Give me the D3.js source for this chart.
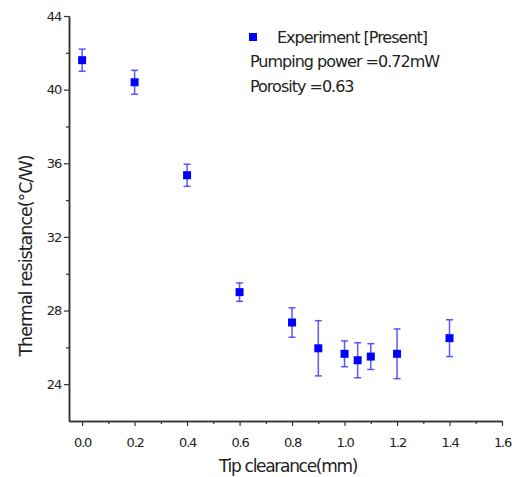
<!DOCTYPE html>
<html>
<head>
<meta charset="utf-8">
<script src="https://cdn.jsdelivr.net/npm/d3@7"></script>
<style>
  body { margin: 0; background: #fff; }
  text { font-family: "DejaVu Sans", sans-serif; fill: #222; }
</style>
</head>
<body>
<script>
var width = 512,
    height = 477;

// data
var clearance = [0.0, 0.2, 0.4, 0.6, 0.8, 0.9, 1.0, 1.05, 1.1, 1.2, 1.4];
var resistance = [41.6, 40.4, 35.35, 29.0, 27.35, 25.95, 25.65, 25.3, 25.5, 25.65, 26.5];
var errorBar = [0.6, 0.65, 0.6, 0.5, 0.8, 1.5, 0.7, 0.95, 0.7, 1.35, 1.0];
var xTicks = [0.0, 0.2, 0.4, 0.6, 0.8, 1.0, 1.2, 1.4, 1.6];
var yTicks = [24, 28, 32, 36, 40, 44];
var legendLines = ["Pumping power =0.72mW", "Porosity =0.63"];

var svg = d3.select("body").append("svg")
            .attr("width", width)
            .attr("height", height)

var x = d3.scaleLinear().domain([-0.05, 1.6]).range([69, 502]);
var y = d3.scaleLinear().domain([22, 44]).range([421, 16]);

var xAxis = svg.append("g")
               .attr("transform", "translate(0,421)")
               .call(d3.axisBottom(x).tickValues(xTicks).tickFormat(d3.format(".1f")).tickSize(5).tickSizeOuter(0));
svg.append("g")
   .attr("transform", "translate(0,421)")
   .call(d3.axisBottom(x).tickValues(d3.range(0.1, 1.6, 0.2)).tickFormat("").tickSize(3).tickSizeOuter(0));

var yAxis = svg.append("g")
               .attr("transform", "translate(69,0)")
               .call(d3.axisLeft(y).tickValues(yTicks).tickSize(5).tickSizeOuter(0));
svg.append("g")
   .attr("transform", "translate(69,0)")
   .call(d3.axisLeft(y).tickValues([26, 30, 34, 38, 42]).tickFormat("").tickSize(3).tickSizeOuter(0));

svg.selectAll(".domain").attr("stroke", "#333").attr("stroke-width", 1.5);
svg.selectAll(".tick line").attr("stroke", "#333").attr("stroke-width", 1.2);
svg.selectAll(".tick text")
   .style("font-size", "13px")
   .style("letter-spacing", "-1.2px")
   .attr("fill", "#333");
xAxis.selectAll(".tick text").attr("dy", "1.4em");

// error bars
var bars = svg.append("g").selectAll("g")
              .data(clearance)
              .enter()
              .append("g")
              .attr("stroke", "#3c3cff")
              .attr("stroke-width", 1.5)
              .attr("stroke-opacity", 0.85);

bars.append("line")
    .attr("x1", function(d){ return x(d); })
    .attr("x2", function(d){ return x(d); })
    .attr("y1", function(d, i){ return y(resistance[i] + errorBar[i]); })
    .attr("y2", function(d, i){ return y(resistance[i] - errorBar[i]); });
bars.append("line")
    .attr("x1", function(d){ return x(d) - 3.5; })
    .attr("x2", function(d){ return x(d) + 3.5; })
    .attr("y1", function(d, i){ return y(resistance[i] + errorBar[i]); })
    .attr("y2", function(d, i){ return y(resistance[i] + errorBar[i]); });
bars.append("line")
    .attr("x1", function(d){ return x(d) - 3.5; })
    .attr("x2", function(d){ return x(d) + 3.5; })
    .attr("y1", function(d, i){ return y(resistance[i] - errorBar[i]); })
    .attr("y2", function(d, i){ return y(resistance[i] - errorBar[i]); });

svg.append("g").selectAll("rect")
   .data(clearance)
   .enter()
   .append("rect")
   .attr("x", function(d){ return x(d) - 4; })
   .attr("y", function(d, i){ return y(resistance[i]) - 4; })
   .attr("width", 8)
   .attr("height", 8)
   .attr("fill", "#0000ff");

// legend
svg.append("rect")
   .attr("x", 249).attr("y", 33).attr("width", 8).attr("height", 8)
   .attr("fill", "#0000ff");
svg.append("text")
   .attr("x", 277).attr("y", 43)
   .style("font-size", "16px").style("letter-spacing", "-1px")
   .text("Experiment [Present]");
svg.selectAll(".legline")
   .data(legendLines)
   .enter()
   .append("text")
   .attr("class", "legline")
   .attr("x", 250)
   .attr("y", function(d, i){ return 67 + i * 25; })
   .style("font-size", "16px").style("letter-spacing", "-1px")
   .text(function(d){ return d; });

// axis titles
svg.append("text")
   .attr("transform", "translate(32,256) rotate(-90)")
   .attr("text-anchor", "middle")
   .style("font-size", "17.5px").style("letter-spacing", "-1px")
   .text("Thermal resistance(\u00B0C/W)");
svg.append("text")
   .attr("x", 288).attr("y", 472)
   .attr("text-anchor", "middle")
   .style("font-size", "17px").style("letter-spacing", "-1.3px")
   .text("Tip clearance(mm)");
</script>
</body>
</html>
